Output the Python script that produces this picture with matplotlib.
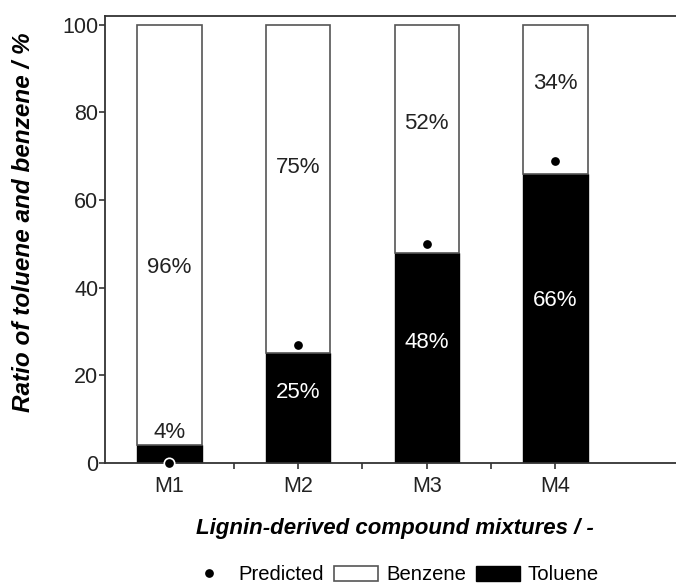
import numpy as np
import matplotlib
matplotlib.use("Agg")
import matplotlib.pyplot as plt

plt.rcParams["font.family"] = ["Liberation Sans", "DejaVu Sans"]

mixtures = ["M1", "M2", "M3", "M4"]
toluene = [4, 25, 48, 66]
benzene = [96, 75, 52, 34]
predicted = [0, 27, 50, 69]
benzene_labels = ["96%", "75%", "52%", "34%"]
toluene_labels = ["4%", "25%", "48%", "66%"]
# vertical anchor of the in-bar labels
benzene_label_y = [44.5, 67.5, 77.5, 86.5]
toluene_label_y = [7.0, 16.0, 27.5, 37.0]

fig = plt.figure(figsize=(6.76, 5.86), dpi=100)
ax = fig.add_axes([105 / 676, 123 / 586, 579 / 676, 447 / 586])

x = np.arange(1, len(mixtures) + 1)
edge = "#555555"
tol = ax.bar(x, toluene, width=0.5, color="black", edgecolor="black", lw=1, zorder=2)
ben = ax.bar(x, benzene, width=0.5, bottom=toluene, color="white", edgecolor=edge, lw=1.2,
             zorder=2)
pred, = ax.plot(x, predicted, "o", color="black", mec="white", mew=1.2, ms=7.5, zorder=5,
                clip_on=False)

for xi, t, yy in zip(x, benzene_labels, benzene_label_y):
    ax.text(xi, yy, t, ha="center", va="center", fontsize=16, color="#222222", zorder=4)
for xi, t, yy, tv in zip(x, toluene_labels, toluene_label_y, toluene):
    ax.text(xi, yy, t, ha="center", va="center", fontsize=16, zorder=4,
            color="#222222" if tv < 10 else "white")

ax.set_xlim(0.5, 5.0)
ax.set_ylim(0, 102)
ax.set_xticks(x)
ax.set_xticklabels(mixtures)
ax.set_xticks(x[:-1] + 0.5, minor=True)
ax.set_yticks([0, 20, 40, 60, 80, 100])
ax.tick_params(axis="both", which="major", direction="out", length=4.3, width=1.2,
               labelsize=15.5, color="#333333", labelcolor="#222222")
ax.tick_params(axis="y", pad=0.5)
ax.tick_params(axis="x", pad=5)
ax.tick_params(axis="x", which="minor", direction="out", length=4.3, width=1.2, color="#333333")
for s in ["left", "bottom", "top"]:
    ax.spines[s].set_color("#333333")
    ax.spines[s].set_linewidth(1.3)
ax.spines["right"].set_visible(False)

ax.set_ylabel("Ratio of toluene and benzene / %", fontsize=17.5, fontweight="bold",
              fontstyle="italic")
ax.set_xlabel("Lignin-derived compound mixtures / -", fontsize=16, fontweight="bold",
              fontstyle="italic")
ax.yaxis.set_label_coords(-(105 - 35) / 579, (463 - 222) / 447)
ax.xaxis.set_label_coords(0.5, -(518 - 463) / 447)

fig.legend([pred, ben, tol], ["Predicted", "Benzene", "Toluene"], loc="center",
           bbox_to_anchor=(393 / 676, 1 - 575 / 586), ncol=3, frameon=False, fontsize=14.6,
           handlelength=2.15, handleheight=0.7, handletextpad=0.4, columnspacing=0.5)

fig.savefig("out.png", dpi=100)
